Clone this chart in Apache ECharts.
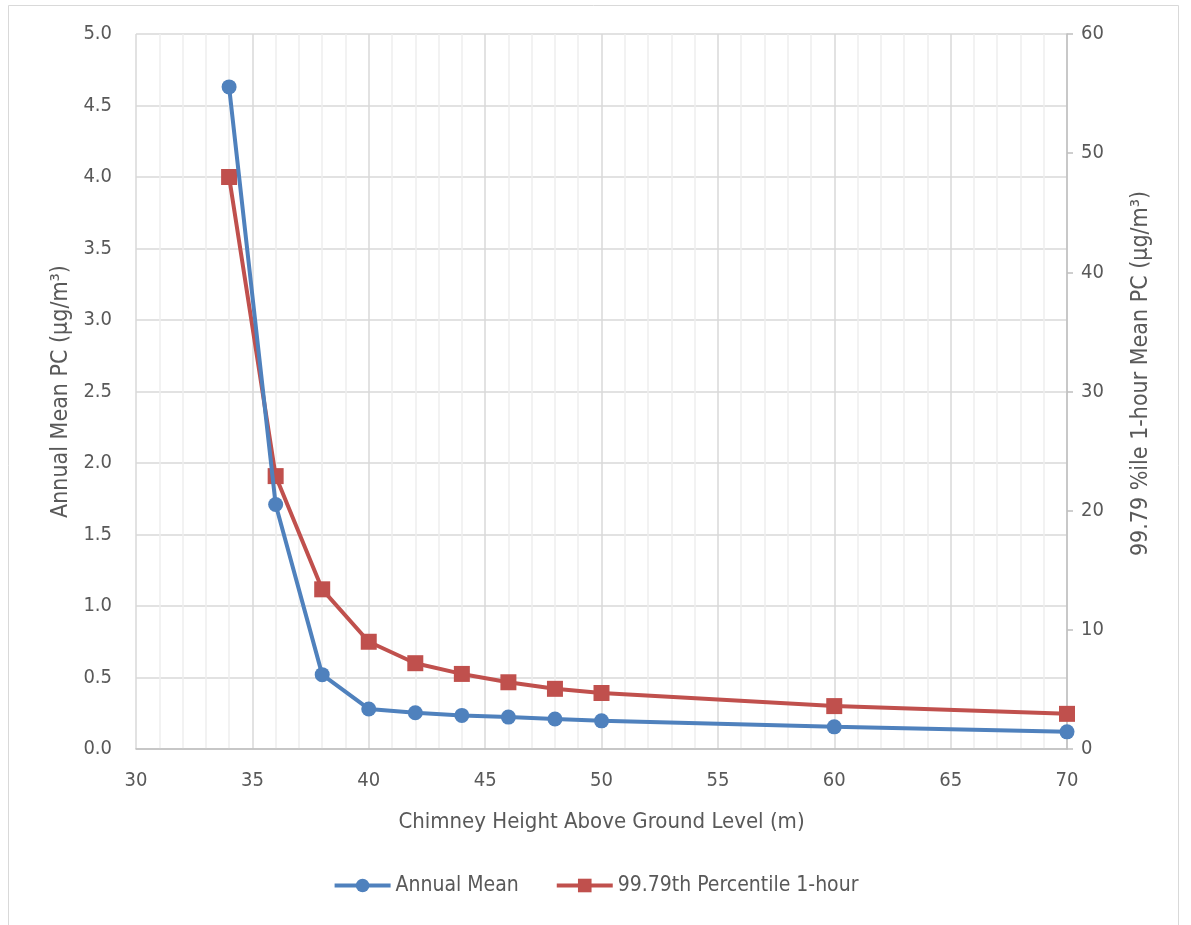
<!DOCTYPE html>
<html>
<head>
<meta charset="utf-8">
<script src="https://cdn.jsdelivr.net/npm/echarts@6/dist/echarts.min.js"></script>
<style>
  html, body { margin: 0; padding: 0; background: #fff; }
  #chart { width: 1191px; height: 925px; }
</style>
</head>
<body>
<div id="chart"></div>
<script>
var chartDom = document.getElementById('chart');
var myChart = echarts.init(chartDom);
var option;

// chimney heights (m)
let heights = [34, 36, 38, 40, 42, 44, 46, 48, 50, 60, 70];
// annual mean PC (ug/m3) - left axis
let annualMean = [4.63, 1.71, 0.52, 0.28, 0.253, 0.235, 0.223, 0.21, 0.197, 0.155, 0.12];
// 99.79th percentile 1-hour mean PC (ug/m3) - right axis
let pct1hour = [48.0, 22.9, 13.4, 9.0, 7.2, 6.3, 5.6, 5.05, 4.7, 3.6, 2.95];

let seriesNames = ['Annual Mean', '99.79th Percentile 1-hour'];
let fontFam = '"Liberation Sans Narrow", "DejaVu Sans Condensed", sans-serif';
let textCol = '#595959';
let blue = '#4f81bd';
let red = '#c0504d';

function pairs(xs, ys) {
  return xs.map(function (x, i) { return [x, ys[i]]; });
}

option = {
  backgroundColor: '#fff',
  textStyle: { fontFamily: fontFam },
  graphic: [
    {
      type: 'rect',
      shape: { x: 8.5, y: 5.5, width: 1170, height: 940 },
      style: { fill: 'none', stroke: '#d9d9d9', lineWidth: 1 },
      silent: true
    }
  ],
  grid: { left: 136, right: 124, top: 34, bottom: 176 },
  legend: {
    bottom: 24,
    left: 'center',
    itemWidth: 56,
    itemHeight: 17,
    itemGap: 36,
    textStyle: { color: textCol, fontSize: 21, fontFamily: fontFam },
    data: [
      { name: seriesNames[0], lineStyle: { width: 4 } },
      { name: seriesNames[1], lineStyle: { width: 4 } }
    ]
  },
  xAxis: {
    type: 'value',
    min: 30,
    max: 70,
    interval: 5,
    name: 'Chimney Height Above Ground Level (m)',
    nameLocation: 'middle',
    nameGap: 62,
    nameTextStyle: { color: textCol, fontSize: 22, fontFamily: fontFam },
    axisLine: { show: true, onZero: false, lineStyle: { color: '#bfbfbf', width: 1.5 } },
    axisTick: { show: false },
    axisLabel: { color: textCol, fontSize: 20, margin: 22, fontFamily: fontFam },
    splitLine: { show: true, lineStyle: { color: '#d9d9d9', width: 1.5 } },
    minorTick: { show: false, splitNumber: 5 },
    minorSplitLine: { show: true, lineStyle: { color: '#eeeeee', width: 1.5 } }
  },
  yAxis: [
    {
      type: 'value',
      min: 0,
      max: 5,
      interval: 0.5,
      position: 'left',
      name: 'Annual Mean PC (µg/m³)',
      nameLocation: 'middle',
      nameGap: 63,
      nameRotate: 90,
      nameTextStyle: { color: textCol, fontSize: 23, fontFamily: fontFam },
      axisLine: { show: false },
      axisTick: { show: false },
      axisLabel: {
        color: textCol, fontSize: 20, margin: 24, fontFamily: fontFam,
        formatter: function (v) { return v.toFixed(1); }
      },
      splitLine: { show: true, lineStyle: { color: '#d9d9d9', width: 1.5 } }
    },
    {
      type: 'value',
      min: 0,
      max: 60,
      interval: 10,
      position: 'right',
      name: '99.79 %ile 1-hour Mean PC (µg/m³)',
      nameLocation: 'middle',
      nameGap: 63,
      nameRotate: 90,
      nameTextStyle: { color: textCol, fontSize: 23, fontFamily: fontFam, padding: [0, 0, 0, 36] },
      axisLine: { show: true, lineStyle: { color: '#bfbfbf', width: 1.5 } },
      axisTick: { show: true, length: 6, lineStyle: { color: '#bfbfbf', width: 1.5 } },
      axisLabel: { color: textCol, fontSize: 20, margin: 14, fontFamily: fontFam },
      splitLine: { show: false }
    }
  ],
  series: [
    {
      name: seriesNames[0],
      type: 'line',
      yAxisIndex: 0,
      symbol: 'circle',
      symbolSize: 15,
      lineStyle: { color: blue, width: 4 },
      itemStyle: { color: blue },
      z: 3,
      data: pairs(heights, annualMean)
    },
    {
      name: seriesNames[1],
      type: 'line',
      yAxisIndex: 1,
      symbol: 'rect',
      symbolSize: 16,
      lineStyle: { color: red, width: 4 },
      itemStyle: { color: red },
      z: 2,
      data: pairs(heights, pct1hour)
    }
  ]
};

option && myChart.setOption(option);
</script>
</body>
</html>
